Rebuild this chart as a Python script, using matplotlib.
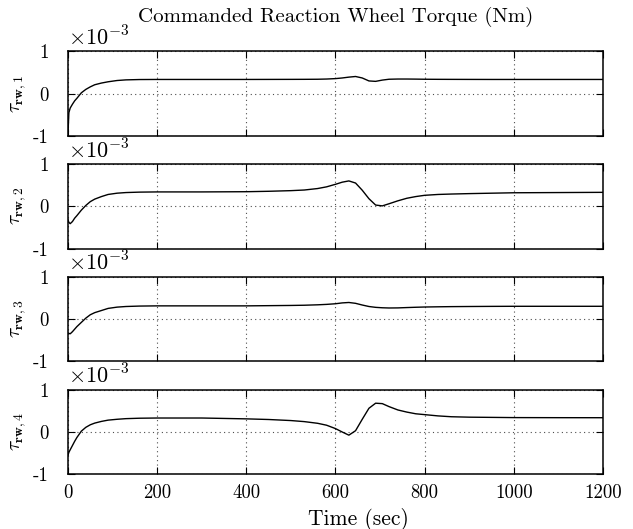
import matplotlib
matplotlib.use("Agg")
from matplotlib import pyplot as plt

plt.rcParams['font.family'] = 'cmr10'
plt.rcParams['mathtext.fontset'] = 'cm'
plt.rcParams['axes.unicode_minus'] = False
plt.rcParams['axes.formatter.use_mathtext'] = False

# tiempo (s)
tiempo = [0, 2, 5, 10, 15, 20, 30, 40, 50, 60, 75, 90, 110, 130, 160, 200,
          300, 400, 450, 500, 530, 560, 580, 600, 615, 630, 645, 660, 675,
          690, 705, 720, 740, 760, 780, 800, 830, 860, 900, 950, 1000, 1100, 1200]

# torque de cada rueda, en unidades de 1e-3 Nm
torque_rw1 = [-0.95, -0.45, -0.34, -0.25, -0.17, -0.11, 0.02, 0.10, 0.16, 0.21, 0.25, 0.28,
              0.31, 0.325, 0.333, 0.335, 0.335, 0.335, 0.336, 0.337, 0.338, 0.34, 0.345,
              0.355, 0.37, 0.39, 0.405, 0.37, 0.30, 0.29, 0.32, 0.34, 0.345, 0.345, 0.343,
              0.34, 0.338, 0.337, 0.336, 0.335, 0.335, 0.335, 0.335]
torque_rw2 = [-0.32, -0.38, -0.41, -0.36, -0.28, -0.22, -0.09, 0.02, 0.11, 0.17, 0.23, 0.28,
              0.31, 0.325, 0.335, 0.34, 0.34, 0.345, 0.355, 0.37, 0.385, 0.42, 0.46,
              0.52, 0.57, 0.60, 0.55, 0.38, 0.18, 0.03, 0.01, 0.06, 0.13, 0.19, 0.23,
              0.26, 0.28, 0.29, 0.30, 0.31, 0.32, 0.325, 0.33]
torque_rw3 = [-0.33, -0.34, -0.35, -0.30, -0.24, -0.18, -0.08, 0.02, 0.10, 0.15, 0.20, 0.25,
              0.28, 0.295, 0.305, 0.31, 0.31, 0.31, 0.315, 0.32, 0.325, 0.335, 0.345,
              0.36, 0.38, 0.39, 0.37, 0.33, 0.295, 0.275, 0.265, 0.26, 0.262, 0.27, 0.277,
              0.283, 0.288, 0.292, 0.295, 0.298, 0.30, 0.30, 0.30]
torque_rw4 = [-0.55, -0.48, -0.42, -0.32, -0.22, -0.13, 0.02, 0.11, 0.17, 0.21, 0.25, 0.28,
              0.30, 0.315, 0.325, 0.33, 0.33, 0.31, 0.295, 0.27, 0.245, 0.205, 0.16,
              0.08, 0.0, -0.075, 0.03, 0.30, 0.56, 0.68, 0.67, 0.60, 0.52, 0.47, 0.43,
              0.41, 0.38, 0.36, 0.35, 0.345, 0.34, 0.338, 0.337]

series = [torque_rw1, torque_rw2, torque_rw3, torque_rw4]
etiquetas = [r'$\tau_{\mathbf{rw},%d}$' % i for i in range(1, 5)]
yticks = [-1, 0, 1]
xticks = [0, 200, 400, 600, 800, 1000, 1200]

fig = plt.figure(figsize=(6.33, 5.29), dpi=100)
bottoms = [0.743, 0.530, 0.317, 0.1034]
ejes = []
for k in range(4):
    ax = fig.add_axes([0.1074, bottoms[k], 0.8452, 0.160])
    ax.plot(tiempo, series[k], color='black', linewidth=1.0)
    ax.set_xlim(0, 1200)
    ax.set_ylim(-1, 1)
    ax.set_yticks(yticks)
    ax.set_xticks(xticks)
    ax.tick_params(direction='in', top=True, right=True, length=5, labelsize=13.5)
    ax.tick_params(axis='y', pad=14)
    ax.tick_params(axis='x', pad=7)
    ax.grid(True, linestyle=(0, (1, 3)), color='0.3', linewidth=0.8)
    for s in ax.spines.values():
        s.set_linewidth(1.1)
    ax.set_ylabel(etiquetas[k], fontsize=14, labelpad=3)
    ax.text(0, 1.02, r'$\times 10^{-3}$', transform=ax.transAxes, fontsize=16,
            ha='left', va='bottom')
    if k < 3:
        ax.set_xticklabels([])
    ejes.append(ax)

ejes[0].set_title('Commanded Reaction Wheel Torque (Nm)', fontsize=15, pad=21)
ejes[3].set_xlabel('Time (sec)', fontsize=15.5, labelpad=4, x=0.542)

fig.savefig('out.png', dpi=100)
